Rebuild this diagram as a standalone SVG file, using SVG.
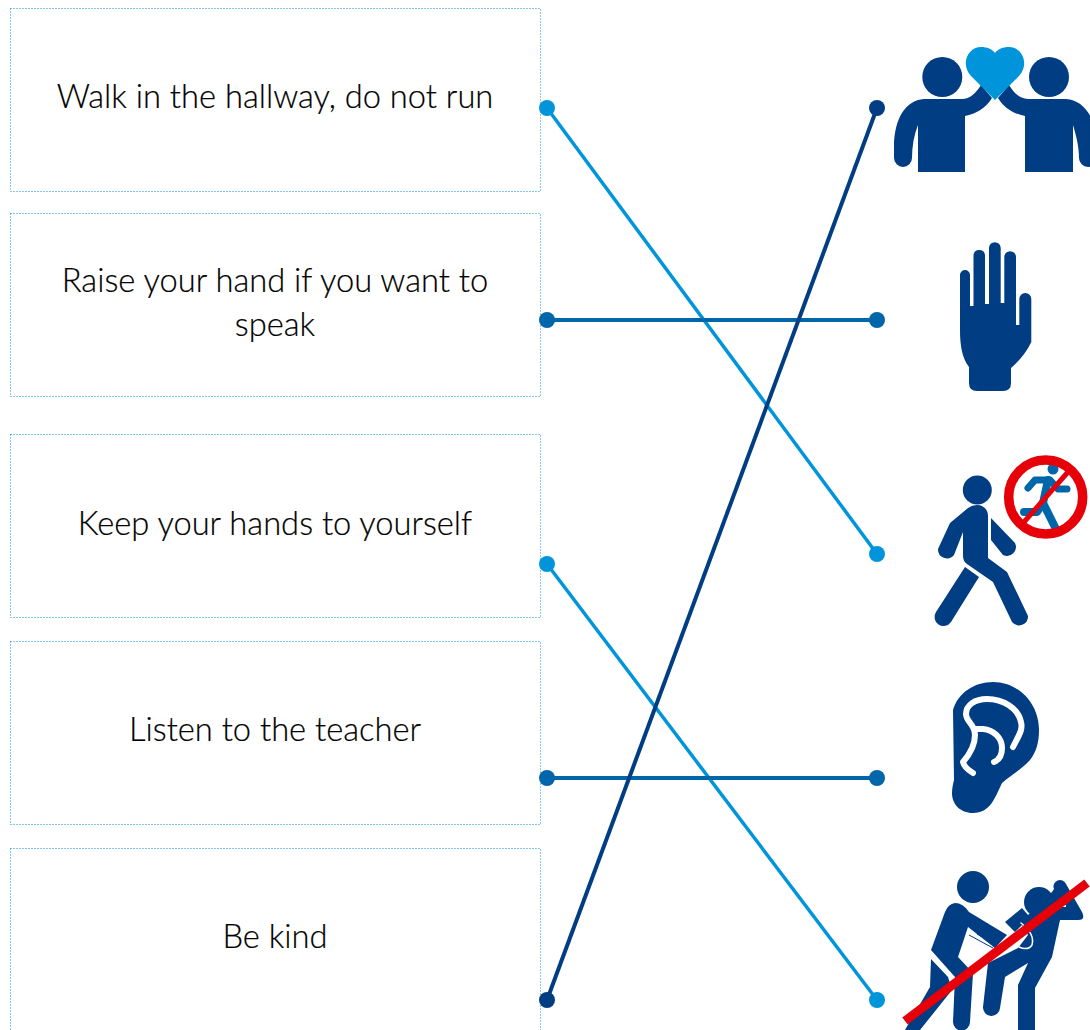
<svg xmlns="http://www.w3.org/2000/svg" width="1090" height="1030" viewBox="0 0 1090 1030">
<style>
.box{fill:#fff;stroke:#0095da;stroke-width:1;stroke-dasharray:1 2}
.t{font-family:"Lato","Open Sans","Liberation Sans",sans-serif;font-weight:300;font-size:32.700px;fill:#000;stroke:#000;stroke-width:.2;text-anchor:middle}
.n{fill:#003d82}
.w{fill:none;stroke:#fff;stroke-linecap:round;stroke-linejoin:round}
.red{fill:none;stroke:#e60009}
.a{stroke:#0095da;fill:#0095da}
.b{stroke:#0066aa;fill:#0066aa}
.c{stroke:#003d82;fill:#003d82}
</style>
<rect width="1090" height="1030" fill="#fff"/>
<g id="node-walk"><rect class="box" x="10.500" y="8.500" width="530" height="183"/><text class="t" x="275" y="108">Walk in the hallway, do not run</text></g>
<g id="node-raise"><rect class="box" x="10.500" y="213.500" width="530" height="183"/><text class="t" x="275" y="292">Raise your hand if you want to</text><text class="t" x="275" y="336">speak</text></g>
<g id="node-keep"><rect class="box" x="10.500" y="434.500" width="530" height="183"/><text class="t" x="275" y="535">Keep your hands to yourself</text></g>
<g id="node-listen"><rect class="box" x="10.500" y="641.500" width="530" height="183"/><text class="t" x="275" y="741">Listen to the teacher</text></g>
<g id="node-kind"><rect class="box" x="10.500" y="848.500" width="530" height="183"/><text class="t" x="275" y="948">Be kind</text></g>
<g id="connectors">
<g class="a"><path d="M547 108L877 554" stroke-width="3.500" fill="none"/><circle cx="547" cy="108" r="8" stroke="none"/><circle cx="877" cy="554" r="8" stroke="none"/></g>
<g class="b"><path d="M547 320H877" stroke-width="4" fill="none"/><circle cx="547" cy="320" r="8" stroke="none"/><circle cx="877" cy="320" r="8" stroke="none"/></g>
<g class="a"><path d="M547 564L877 1000" stroke-width="3.500" fill="none"/><circle cx="547" cy="564" r="8" stroke="none"/><circle cx="877" cy="1000" r="8" stroke="none"/></g>
<g class="b"><path d="M547 778H877" stroke-width="4" fill="none"/><circle cx="547" cy="778" r="8" stroke="none"/><circle cx="877" cy="778" r="8" stroke="none"/></g>
<g class="c"><path d="M547 1000L877 108" stroke-width="4" fill="none"/><circle cx="547" cy="1000" r="8" stroke="none"/><circle cx="877" cy="108" r="8" stroke="none"/></g>
</g>
<g id="icon-kind">
<circle class="n" cx="942.300" cy="77" r="20"/><circle class="n" cx="1049" cy="77" r="20"/>
<path class="n" d="M924 99H962C970 99 976 93 981 85L992 98C986 108 976 114 965 116V172H918V125C914 135 912 146 912 158A8.800 8.800 0 0 1 894 158V147C894 120 905 100 924 99Z"/>
<path class="n" d="M1066 99H1028C1020 99 1014 93 1009 85L998 98C1004 108 1014 114 1025 116V172H1073V125C1076 135 1079 146 1079 158A8.800 8.800 0 0 0 1097 158V147C1097 120 1085 100 1066 99Z"/>
<path fill="#0095da" d="M995 100L971 76C960 64 968 47 981 47C987 47 992 49 995 53C998 49 1003 47 1009 47C1022 47 1030 64 1019 76Z"/>
</g>
<g id="icon-hand">
<path class="n" d="M960 275A5 5 0 0 1 970 275V306H973.500V255A5.800 5.800 0 0 1 985 255V304H989V248A5.800 5.800 0 0 1 1000.700 248V303H1004.300V257A5.800 5.800 0 0 1 1016 257V325H1019.300V299A6 6 0 0 1 1031.300 299V342C1026 353 1019 361 1011 368V383Q1011 391 1003 391H977Q969 391 969 383V367C962 358 960 345 960 330Z"/>
</g>
<g id="icon-walk">
<circle class="n" cx="977.300" cy="490" r="14.500"/>
<path class="n" d="M977 505C984 505 988 510 988 516V558L1007 572L1028 616A9 9 0 0 1 1012 622L993 582L967 564Q963 561 963 556V532L954 555A9 9 0 0 1 938 549L950 523L968 508Q972 505 977 505Z"/>
<path class="n" d="M991 518L1015 543A9 9 0 0 1 1003 555L991 540Z"/>
<path class="n" d="M965 567L979 577L951 622A9 9 0 0 1 936 612Z"/>
<g fill="none" stroke="#0066aa" stroke-width="7" stroke-linecap="round" stroke-linejoin="round">
<path d="M1028 488L1035 480H1050L1058 489H1067"/><path d="M1048 480L1043 503L1056 529" stroke-width="8"/><path d="M1043 503L1037 512H1024" stroke-width="8"/></g>
<circle cx="1053" cy="469" r="5.500" fill="#0066aa"/>
<circle class="red" cx="1045.700" cy="497" r="37" stroke-width="9.500"/>
<path class="red" d="M1024 522L1068 472" stroke-width="5"/>
</g>
<g id="icon-listen">
<path class="n" d="M953 710C958 693 974 682 993 682C1019 682 1039 704 1039 730C1039 743 1036 752 1030 760C1022 769 1011 775 1002 783C995 798 990 813 973 813C960 813 952 804 952 793C952 788 953 784 954 780Z"/>
<path class="w" stroke-width="6" d="M1013 747C1019 735 1023 730 1021 722C1018 708 1003 699 987 699C975 699 966 705 966 714C966 722 975 724 975 735C975 746 970 754 963 762C964 767 968 770 973 773"/>
<path class="w" stroke-width="6" d="M975 729H983C994 730 1002 738 1002 748C1002 755 999 760 994 762"/>
</g>
<g id="icon-hands-off">
<circle class="n" cx="973" cy="887" r="16"/><circle class="n" cx="1039" cy="902" r="15"/>
<path class="n" d="M955 903Q963 903 969 912L1007 935L995 948L968 927L958 957L973 973L970 1022A8.500 8.500 0 0 1 953 1022L955 977L931 950L945 912Q948 904 955 903Z"/>
<path class="n" d="M931 959L948 977L952 990L920 1030H905L930 987Z"/>
<path class="n" d="M1005 922L1022 908L1028 915L1052 892L1054 889A6.500 6.500 0 0 1 1066 884L1082 912Q1086 920 1078 920H1060L1052 957L1035 988V1030H1018V985L1028 963L1005 977L1000 1008A8.500 8.500 0 0 1 983 1007L988 963L1018 948L1028 935L1022 925L1015 932Z"/>
<path class="w" stroke-width="1.500" d="M1021 923C1030 930 1034 938 1032 945Q1028 951 1019 947"/>
<path stroke="#fff" stroke-width="2" d="M1062 906H1066"/>
<path stroke="#003d82" stroke-width="1" d="M969 935L993 948M977 934L997 945"/>
<path class="red" d="M905 1021L1087 883" stroke-width="9"/>
</g>
</svg>
